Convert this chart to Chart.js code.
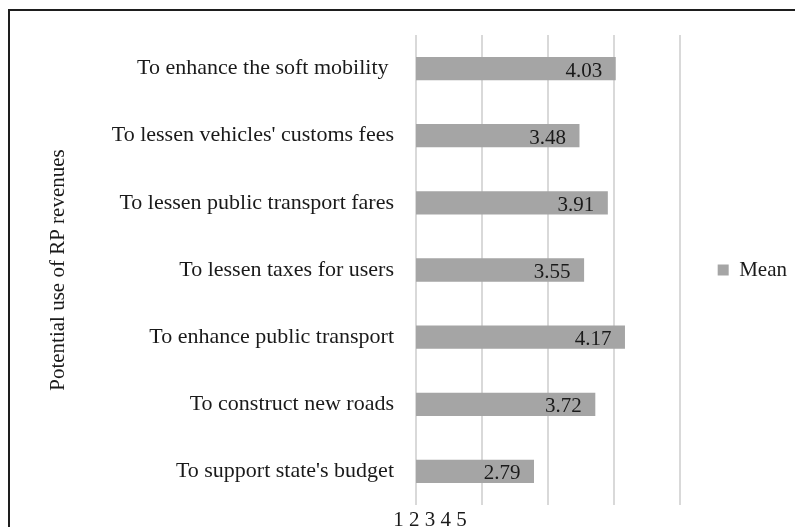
<!DOCTYPE html>
<html><head><meta charset="utf-8">
<script src="https://cdn.jsdelivr.net/npm/chart.js@4"></script>
<style>
html,body{margin:0;padding:0;background:#fff;overflow:hidden}
#frame{position:absolute;left:8px;top:9px;width:900px;height:600px;border:2px solid #1e1e1e;}
#wrap{position:absolute;left:0;top:0;width:787px;height:516px}
</style></head><body>
<div id="frame"><div id="wrap"><canvas id="c"></canvas></div></div>
<script>
const categories = [
  "To enhance the soft mobility ",
  "To lessen vehicles' customs fees",
  "To lessen public transport fares",
  "To lessen taxes for users",
  "To enhance public transport",
  "To construct new roads",
  "To support state's budget"
];
const meanValues = [4.03, 3.48, 3.91, 3.55, 4.17, 3.72, 2.79];
const xTickLabels = ["1", "2", "3", "4", "5"];
const seriesName = "Mean";
const axisTitle = "Potential use of RP revenues";

const FONT = "'Liberation Serif', 'Times New Roman', serif";
const TXT = "#1a1a1a";

const valueLabels = {
  id: 'valueLabels',
  afterDatasetsDraw(chart) {
    const ctx = chart.ctx;
    const meta = chart.getDatasetMeta(0);
    ctx.save();
    ctx.font = "21px " + FONT;
    ctx.fillStyle = TXT;
    ctx.textAlign = 'right';
    ctx.textBaseline = 'alphabetic';
    meta.data.forEach((bar, i) => {
      ctx.fillText(meanValues[i].toFixed(2), bar.x - 13.5, bar.y + 8);
    });
    ctx.restore();
  }
};

const squeezedTicks = {
  id: 'squeezedTicks',
  afterDraw(chart) {
    const ctx = chart.ctx;
    const xs = chart.scales.x;
    ctx.save();
    ctx.font = "21px " + FONT;
    ctx.fillStyle = TXT;
    ctx.textAlign = 'center';
    ctx.textBaseline = 'alphabetic';
    ctx.fillText(xTickLabels.join(' '), xs.getPixelForValue(1) + 14, chart.chartArea.bottom + 21);
    ctx.restore();
  }
};

new Chart(document.getElementById('c'), {
  type: 'bar',
  data: {
    labels: categories,
    datasets: [{
      label: seriesName,
      data: meanValues,
      backgroundColor: '#a5a5a5',
      borderWidth: 0,
      categoryPercentage: 1,
      barPercentage: 0.347
    }]
  },
  options: {
    indexAxis: 'y',
    responsive: true,
    maintainAspectRatio: false,
    animation: false,
    layout: { padding: { top: 24, bottom: 22, left: 0, right: 0 } },
    scales: {
      x: {
        min: 1, max: 5,
        ticks: { display: false, stepSize: 1 },
        grid: { color: '#d9d9d9', lineWidth: 2, drawTicks: false },
        border: { display: false },
        afterFit(scale) { scale.paddingLeft = 0; scale.paddingRight = 0; }
      },
      y: {
        grid: { display: false, drawTicks: false },
        border: { display: false },
        ticks: { padding: 22, color: TXT, font: { family: FONT, size: 22 } },
        title: { display: true, text: axisTitle, color: TXT, font: { family: FONT, size: 21 }, padding: { top: 36, bottom: 0 } },
        afterFit(scale) { scale.width = 406; scale.paddingTop = 0; scale.paddingBottom = 0; }
      }
    },
    plugins: {
      legend: {
        position: 'right',
        labels: { boxWidth: 11, boxHeight: 11, padding: 38, color: TXT, font: { family: FONT, size: 21 } }
      },
      tooltip: { enabled: false }
    }
  },
  plugins: [valueLabels, squeezedTicks]
});
</script>
</body></html>
